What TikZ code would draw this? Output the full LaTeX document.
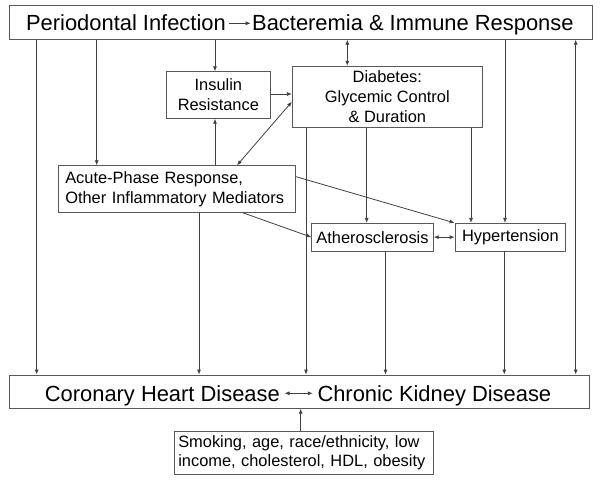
\documentclass[tikz,border=0pt]{standalone}
\usepackage{fontspec}
\setmainfont{Liberation Sans}
\usetikzlibrary{arrows.meta}
\definecolor{linec}{HTML}{404040}
\definecolor{boxc}{HTML}{585858}
\begin{document}
\begin{tikzpicture}[x=1pt,y=-1pt,
  box/.style={draw=boxc,line width=0.8pt,inner sep=0pt,align=center,
    font=\fontsize{16.4}{19.8}\selectfont},
  bigtxt/.style={inner ysep=0pt,font=\fontsize{21.9}{26}\selectfont},
  arr/.style={draw=linec,line width=0.8pt,-{Latex[length=5pt,width=4pt]}},
  darr/.style={draw=linec,line width=0.8pt,{Latex[length=5pt,width=4pt]}-{Latex[length=5pt,width=4pt]}}]
\useasboundingbox (0,0) rectangle (600,480);
\fill[white] (0,0) rectangle (600,480);
% boxes
\node[box,minimum width=583.7pt,minimum height=33.6pt] (top) at (300.85,22.5) {};
\node[box,minimum width=104.7pt,minimum height=46.6pt] (ins) at (218.35,95) {Insulin\\Resistance};
\node[box,minimum width=190pt,minimum height=61.3pt] (dia) at (387.3,96.9) {Diabetes:\\Glycemic Control\\\& Duration};
\node[box,minimum width=237.4pt,minimum height=46.6pt,text width=223.4pt,align=left] (apr) at (177,189) {Acute-Phase Response,\\Other Inflammatory Mediators};
\node[box,minimum width=121.6pt,minimum height=27.7pt] (ath) at (372.5,237.15) {Atherosclerosis};
\node[box,minimum width=110.7pt,minimum height=27.7pt] (hyp) at (510.35,237.15) {Hypertension};
\node[box,minimum width=580.3pt,minimum height=33.3pt] (bot) at (299.15,391.65) {};
\node[box,minimum width=259pt,minimum height=43pt,text width=251pt,align=left] (smk) at (303.8,452.8) {Smoking, age, race/ethnicity, low\\income, cholesterol, HDL, obesity};
% big texts
\node[bigtxt,inner xsep=3pt,anchor=base east] (pi) at (229,30.3) {Periodontal Infection};
\node[bigtxt,inner xsep=1.3pt,anchor=base west] (bir) at (250.7,30.3) {Bacteremia \& Immune Response};
\node[bigtxt,inner xsep=4.5pt,anchor=base east] (chd) at (284.5,401) {Coronary Heart Disease};
\node[bigtxt,inner xsep=4.5pt,anchor=base west] (ckd) at (312.8,401) {Chronic Kidney Disease};
% coordinates for connector positions
\coordinate (c1) at (36.7,0);
\coordinate (c2) at (96.7,0);
\coordinate (c3) at (215,0);
\coordinate (c4) at (347.3,0);
\coordinate (c5) at (505,0);
\coordinate (c6) at (575.7,0);
\coordinate (c9) at (237,0);
\coordinate (c10) at (199,0);
\coordinate (c11) at (242.7,0);
\coordinate (c13) at (306,0);
\coordinate (c14) at (366.7,0);
\coordinate (c15) at (471,0);
\coordinate (c17) at (385.5,0);
\coordinate (c18) at (504.3,0);
\coordinate (c19) at (300.7,0);
\coordinate (ytop) at (0,23.3);
\coordinate (ybot) at (0,393.3);
\coordinate (y7) at (0,94);
\coordinate (y9) at (0,101.7);
\coordinate (y12) at (0,176.7);
% connectors
\draw[arr] (pi.east |- ytop) -- (bir.west |- ytop);
\draw[darr] (chd.east |- ybot) -- (ckd.west |- ybot);
\draw[arr] (top.south -| c1) -- (bot.north -| c1);
\draw[arr] (top.south -| c2) -- (apr.north -| c2);
\draw[arr] (top.south -| c3) -- (ins.north -| c3);
\draw[darr] (top.south -| c4) -- (dia.north -| c4);
\draw[arr] (top.south -| c5) -- (hyp.north -| c5);
\draw[darr] (top.south -| c6) -- (bot.north -| c6);
\draw[arr] (ins.east |- y7) -- (dia.west |- y7);
\draw[arr] (apr.north -| c3) -- (ins.south -| c3);
\draw[darr] (apr.north -| c9) -- (dia.west |- y9);
\draw[arr] (apr.south -| c10) -- (bot.north -| c10);
\draw[arr] (apr.south -| c11) -- (ath.west);
\draw[arr] (apr.east |- y12) -- (hyp.north west);
\draw[arr] (dia.south -| c13) -- (bot.north -| c13);
\draw[arr] (dia.south -| c14) -- (ath.north -| c14);
\draw[arr] (dia.south -| c15) -- (hyp.north -| c15);
\draw[darr] (ath.east) -- (hyp.west);
\draw[arr] (ath.south -| c17) -- (bot.north -| c17);
\draw[arr] (hyp.south -| c18) -- (bot.north -| c18);
\draw[arr] (smk.north -| c19) -- (bot.south -| c19);
\end{tikzpicture}
\end{document}
